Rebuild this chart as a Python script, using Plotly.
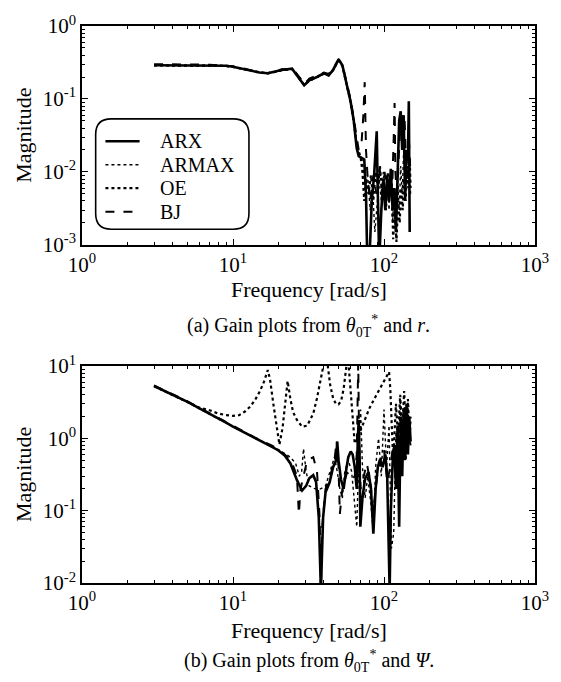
import plotly.graph_objects as go

# ---------------- data: (a) gain from theta0T* to r ----------------
fa_arx = [3, 4, 5, 6, 7, 8, 9, 10, 12.6, 15, 17, 19, 21, 24.6, 26, 28, 29.6, 32, 36, 40, 43, 46, 50, 53, 56, 60,
          63, 66, 68, 71, 74, 76, 77.5, 80, 83, 86, 88, 89.5, 91, 93, 96, 99, 102, 105, 108, 111, 114, 117, 120,
          123, 126, 129, 132, 135, 138, 141, 144, 146, 148]
ma_arx = [0.29, 0.29, 0.29, 0.29, 0.29, 0.29, 0.285, 0.277, 0.25, 0.23, 0.225, 0.237, 0.25, 0.26, 0.225, 0.18,
          0.154, 0.18, 0.2, 0.225, 0.21, 0.25, 0.35, 0.29, 0.175, 0.094, 0.051, 0.021, 0.0165, 0.0155, 0.0148,
          0.005, 0.0006, 0.0006, 0.004, 0.009, 0.02, 0.036, 0.005, 0.0006, 0.003, 0.008, 0.003, 0.009, 0.004,
          0.011, 0.003, 0.006, 0.0015, 0.012, 0.05, 0.068, 0.02, 0.06, 0.004, 0.02, 0.014, 0.093, 0.0015]

fa_armax = [3, 4, 5, 6, 7, 8, 9, 10, 12.6, 15, 17, 19, 21, 24.6, 26, 28, 29.6, 32, 36, 40, 43, 46, 50, 53, 56,
            60, 63, 66, 68, 72, 75, 78, 81, 84, 87, 90, 93, 96, 99, 102, 105, 108, 111, 114, 117, 120, 123, 126,
            129, 132, 135, 138, 141, 144, 147, 150]
ma_armax = [0.285, 0.285, 0.285, 0.285, 0.285, 0.285, 0.28, 0.272, 0.248, 0.228, 0.222, 0.232, 0.245, 0.255,
            0.222, 0.178, 0.152, 0.175, 0.198, 0.22, 0.21, 0.245, 0.33, 0.28, 0.17, 0.09, 0.05, 0.022, 0.017,
            0.014, 0.006, 0.009, 0.003, 0.006, 0.0015, 0.004, 0.008, 0.004, 0.01, 0.005, 0.008, 0.003, 0.009,
            0.002, 0.006, 0.0012, 0.008, 0.003, 0.012, 0.005, 0.02, 0.008, 0.015, 0.006, 0.013, 0.005]

fa_oe = [3, 4, 5, 6, 7, 8, 9, 10, 12.6, 15, 17, 19, 21, 24.6, 26, 28, 29.6, 32, 36, 40, 43, 46, 50, 53, 56, 60,
         63, 66, 70, 72, 74, 76, 79, 82, 85, 88, 91, 94, 97, 100, 103, 106, 109, 112, 115, 118, 121, 124, 127,
         130, 133, 136, 139, 142, 145, 148, 150]
ma_oe = [0.29, 0.29, 0.29, 0.29, 0.29, 0.288, 0.283, 0.275, 0.25, 0.232, 0.226, 0.235, 0.25, 0.258, 0.228, 0.182,
         0.156, 0.178, 0.2, 0.222, 0.212, 0.248, 0.34, 0.285, 0.172, 0.092, 0.05, 0.023, 0.016, 0.01, 0.004, 0.008,
         0.005, 0.009, 0.004, 0.01, 0.006, 0.012, 0.005, 0.008, 0.003, 0.01, 0.006, 0.009, 0.0012, 0.003, 0.0011,
         0.004, 0.002, 0.006, 0.003, 0.008, 0.004, 0.012, 0.008, 0.015, 0.006]

fa_bj = [3, 4, 5, 6, 7, 8, 10, 12, 15, 17, 19, 21, 24, 26, 28, 29.6, 32, 36, 40, 43, 46, 50, 53, 56, 60, 63, 66,
         68, 71, 73, 74.5, 76, 78, 81, 85, 89, 93, 97, 101, 105, 109, 113, 116, 117.5, 119, 122, 125, 128, 131,
         134, 137, 140, 143, 146, 149]
ma_bj = [0.3, 0.3, 0.3, 0.3, 0.295, 0.29, 0.28, 0.26, 0.23, 0.225, 0.24, 0.255, 0.26, 0.23, 0.19, 0.16, 0.19,
         0.21, 0.23, 0.22, 0.27, 0.34, 0.3, 0.18, 0.1, 0.055, 0.027, 0.02, 0.025, 0.06, 0.17, 0.02, 0.008, 0.004,
         0.009, 0.005, 0.012, 0.006, 0.01, 0.004, 0.009, 0.005, 0.03, 0.088, 0.01, 0.004, 0.015, 0.04, 0.06,
         0.02, 0.05, 0.013, 0.014, 0.03, 0.012]

# ---------------- data: (b) gain from theta0T* to Psi ----------------
fb_arx = [3, 4, 5, 6, 7, 8, 9, 10, 12, 14, 16, 18, 20, 22, 24, 25.5, 26.6, 28.7, 30.5, 32, 34, 35.5, 37, 38.2,
          39.5, 41, 43.6, 46, 48.2, 49, 50, 51.9, 54, 56, 58, 60.2, 62, 64, 66, 67, 68, 69, 69.7, 72, 75, 79, 82,
          85, 88, 91, 94, 98, 102, 105, 107, 109, 111, 114, 117, 120, 123, 126, 129, 132, 135, 138, 141, 144,
          147, 150]
mb_arx = [5.3, 4.0, 3.2, 2.6, 2.2, 1.9, 1.65, 1.45, 1.2, 1.0, 0.88, 0.77, 0.68, 0.58, 0.45, 0.33, 0.26, 0.19,
          0.22, 0.28, 0.31, 0.25, 0.08, 0.008, 0.08, 0.18, 0.245, 0.4, 0.5, 0.9, 0.5, 0.27, 0.2, 0.35, 0.55, 0.66,
          0.6, 0.4, 0.2, 0.9, 1.8, 0.5, 0.06, 0.15, 0.28, 0.34, 0.2, 0.048, 0.2, 0.4, 0.51, 0.4, 0.6, 0.3, 0.08,
          0.008, 0.1, 0.46, 0.8, 0.2, 1.5, 0.06, 2.0, 0.3, 2.5, 0.5, 3.0, 0.6, 2.0, 0.9]

fb_armax = [3, 5, 8, 10, 12, 14, 16, 18, 20, 22, 24, 26, 27.5, 28.5, 29.3, 30.5, 32, 35, 38, 41, 44, 47, 49, 51,
            53, 55, 58, 61, 64, 66, 68, 70, 72, 75, 78, 82, 85, 88, 92, 96, 100, 104, 108, 112, 116, 120, 124,
            128, 132, 136, 140, 144, 148, 150]
mb_armax = [5.2, 3.15, 1.85, 1.45, 1.2, 1.0, 0.88, 0.78, 0.7, 0.62, 0.55, 0.45, 0.3, 0.35, 0.72, 0.35, 0.22,
            0.2, 0.2, 0.22, 0.35, 0.55, 0.35, 0.2, 0.15, 0.35, 0.5, 0.35, 0.12, 0.06, 0.5, 2.5, 0.4, 0.15, 0.3,
            0.12, 0.05, 0.4, 1.0, 0.3, 2.5, 0.4, 1.5, 0.03, 0.05, 1.2, 0.3, 3.5, 0.6, 2.5, 0.5, 3.0, 0.9, 1.1]

fb_oe = [3, 4, 5, 6, 7, 8, 9, 10, 11, 12, 13, 14, 15, 16, 17, 17.6, 18.5, 19.5, 20.3, 21.3, 22.2, 23, 24, 25,
         26.5, 28.7, 31, 34, 36, 38, 40, 42, 44, 46, 48, 50, 52, 54, 56, 57, 58, 60, 62, 64, 66, 70, 75, 80, 88,
         95, 102, 108, 110, 112, 115, 120, 124, 128, 132, 136, 140, 144, 148, 150]
mb_oe = [5.3, 4.0, 3.2, 2.65, 2.45, 2.2, 2.1, 2.05, 2.1, 2.35, 2.75, 3.4, 4.4, 6.0, 8.8, 6.5, 3.0, 1.4, 0.82, 1.4,
         3.2, 6.2, 3.5, 2.3, 1.8, 1.45, 1.5, 2.2, 3.6, 6.0, 11, 12, 5.5, 3.6, 3.0, 2.95, 3.3, 4.8, 8, 12, 12, 5,
         2, 0.85, 0.95, 1.3, 1.8, 2.6, 3.8, 5, 6.5, 8.3, 5, 1.5, 0.5, 3, 1, 4, 1.2, 4.5, 0.8, 3.5, 1.0, 2]

fb_bj = [3, 4, 5, 6, 7, 8, 10, 12, 14, 16, 18, 20, 22, 24, 25, 26.5, 27.3, 28, 29.5, 31, 34, 36, 37.5, 38.2, 39,
         41, 44, 47, 48.6, 50, 51, 53, 57, 61, 64, 66, 67.5, 68.5, 70, 73, 77, 81, 85, 90, 95, 100, 105, 110,
         115, 120, 125, 130, 135, 140, 145, 150]
mb_bj = [5.4, 4.1, 3.25, 2.65, 2.25, 1.95, 1.5, 1.22, 1.02, 0.9, 0.8, 0.7, 0.6, 0.5, 0.42, 0.3, 0.09, 0.2, 0.33,
         0.5, 0.55, 0.35, 0.08, 0.008, 0.06, 0.2, 0.3, 0.5, 0.93, 0.4, 0.09, 0.2, 0.34, 0.27, 0.3, 0.6, 11, 0.8,
         0.2, 0.3, 0.45, 0.25, 0.1, 0.3, 0.5, 0.7, 0.25, 0.4, 0.8, 0.3, 1.5, 0.5, 2.0, 0.7, 1.2, 0.8]

series_names = ["ARX", "ARMAX", "OE", "BJ"]
x_tickvals = [1, 10, 100, 1000]
x_ticktext = ["10<sup>0</sup>", "10<sup>1</sup>", "10<sup>2</sup>", "10<sup>3</sup>"]
x_minor = [m * d for d in (1, 10, 100) for m in range(2, 10)]
ya_tickvals = [0.001, 0.01, 0.1, 1]
ya_ticktext = ["10<sup>-3</sup>", "10<sup>-2</sup>", "10<sup>-1</sup>", "10<sup>0</sup>"]
ya_minor = [m * d for d in (0.001, 0.01, 0.1) for m in range(2, 10)]
yb_tickvals = [0.01, 0.1, 1, 10]
yb_ticktext = ["10<sup>-2</sup>", "10<sup>-1</sup>", "10<sup>0</sup>", "10<sup>1</sup>"]
yb_minor = [m * d for d in (0.01, 0.1, 1) for m in range(2, 10)]

styles = {
    "ARX": dict(color="black", width=2.6, dash="solid"),
    "ARMAX": dict(color="black", width=1.4, dash="dot"),
    "OE": dict(color="black", width=2.2, dash="dot"),
    "BJ": dict(color="black", width=2.0, dash="dash"),
}

FONT = "Liberation Serif"

fig = go.Figure()
top = {"ARX": (fa_arx, ma_arx), "ARMAX": (fa_armax, ma_armax), "OE": (fa_oe, ma_oe), "BJ": (fa_bj, ma_bj)}
bot = {"ARX": (fb_arx, mb_arx), "ARMAX": (fb_armax, mb_armax), "OE": (fb_oe, mb_oe), "BJ": (fb_bj, mb_bj)}
for name in series_names:
    fx, my = top[name]
    fig.add_trace(go.Scatter(x=fx, y=my, mode="lines", name=name, line=styles[name],
                             xaxis="x", yaxis="y", showlegend=False))
for name in series_names:
    fx, my = bot[name]
    fig.add_trace(go.Scatter(x=fx, y=my, mode="lines", name=name, line=styles[name],
                             xaxis="x2", yaxis="y2", showlegend=False))

W, H = 561, 682
ML, MR, MT, MB = 82, 15, 13, 99
PW, PH = W - ML - MR, H - MT - MB


def py(p):  # pixel row -> paper y
    return (H - MB - p) / PH


def px(p):  # pixel column -> paper x
    return (p - ML) / PW


def axis(tv, tt, minor_vals, rng, **kw):
    return dict(type="log", showline=True, linecolor="black", linewidth=1.5, mirror="ticks",
                ticks="inside", ticklen=6, tickwidth=1, tickcolor="black", showgrid=False, zeroline=False,
                tickfont=dict(family=FONT, size=21, color="black"), range=rng,
                tickmode="array", tickvals=tv, ticktext=tt, ticklabeloverflow="allow",
                minor=dict(ticks="inside", ticklen=3, tickcolor="black", tickwidth=1, showgrid=False,
                           tickmode="array", tickvals=minor_vals), **kw)


fig.update_layout(
    width=W, height=H, margin=dict(l=ML, r=MR, t=MT, b=MB),
    paper_bgcolor="white", plot_bgcolor="white",
    font=dict(family=FONT, color="black"),
    xaxis=axis(x_tickvals, x_ticktext, x_minor, [0, 3], domain=[0, 1], anchor="y"),
    yaxis=axis(ya_tickvals, ya_ticktext, ya_minor, [-3, 0], domain=[py(237), 1], anchor="x"),
    xaxis2=axis(x_tickvals, x_ticktext, x_minor, [0, 3], domain=[0, 1], anchor="y2"),
    yaxis2=axis(yb_tickvals, yb_ticktext, yb_minor, [-2, 1], domain=[0, py(361)], anchor="x2"),
    showlegend=False,
)

# rounded legend box with line samples and labels
x0, x1, y0, y1 = px(96), px(253), py(221), py(108)
rx, ry = 16 / PW, 16 / PH
path = (f"M {x0+rx},{y1} L {x1-rx},{y1} Q {x1},{y1} {x1},{y1-ry} L {x1},{y0+ry} Q {x1},{y0} {x1-rx},{y0} "
        f"L {x0+rx},{y0} Q {x0},{y0} {x0},{y0+ry} L {x0},{y1-ry} Q {x0},{y1} {x0+rx},{y1} Z")
fig.add_shape(type="path", path=path, xref="paper", yref="paper", line=dict(color="black", width=1.6),
              fillcolor="white", layer="above")
legend_rows = [131, 155, 179, 203]
for name, row in zip(series_names, legend_rows):
    st = styles[name]
    fig.add_shape(type="line", xref="paper", yref="paper", x0=px(106), x1=px(141), y0=py(row), y1=py(row),
                  line=dict(color="black", width=st["width"], dash=st["dash"]), layer="above")
    fig.add_annotation(text=name, x=px(160), y=py(row), xref="paper", yref="paper", showarrow=False,
                       xanchor="left", yanchor="middle", font=dict(family=FONT, size=20, color="black"))

ann = [
    ("Frequency [rad/s]", 0.5, py(283), 22, 0),
    ("(a) Gain plots from <i>θ</i><sub>0T</sub><sup>*</sup> and <i>r</i>.", 0.5, py(320), 20, 0),
    ("Frequency [rad/s]", 0.5, py(632), 22, 0),
    ("(b) Gain plots from <i>θ</i><sub>0T</sub><sup>*</sup> and <i>Ψ</i>.", 0.5, py(663), 20, 0),
    ("Magnitude", px(22), py(125), 22, -90),
    ("Magnitude", px(22), py(472), 22, -90),
]
for text, ax_, ay_, sz, ang in ann:
    fig.add_annotation(text=text, x=ax_, y=ay_, xref="paper", yref="paper", showarrow=False,
                       xanchor="center", yanchor="middle", textangle=ang,
                       font=dict(family=FONT, size=sz, color="black"))

fig.write_html("out.html", config={"displayModeBar": False},
               post_script="document.body.style.margin='0';")
